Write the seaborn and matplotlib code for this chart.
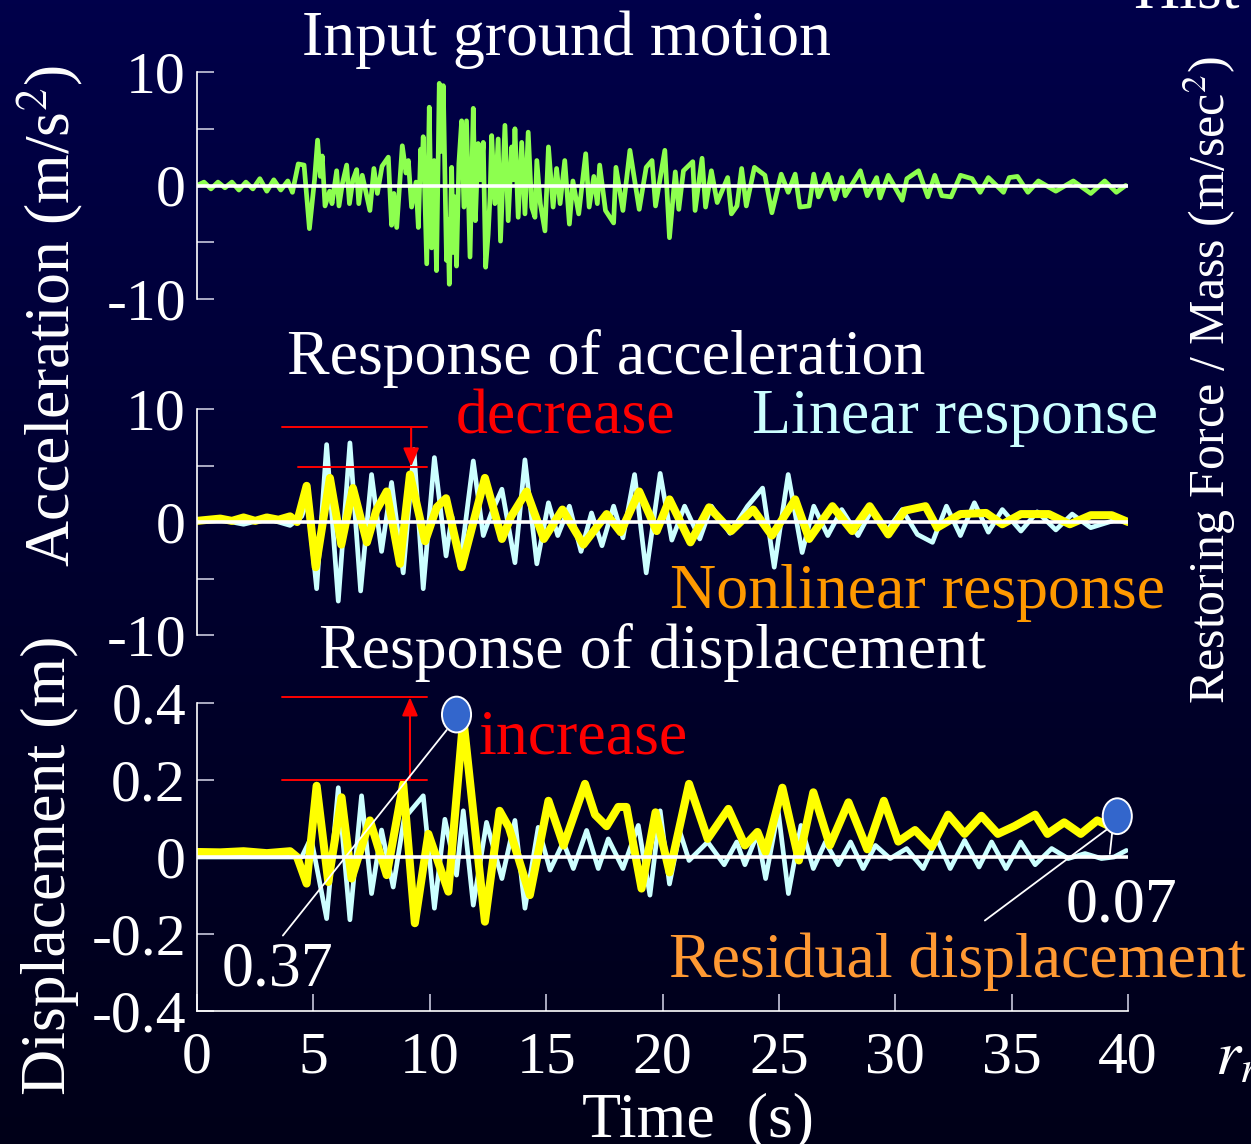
import matplotlib
matplotlib.use("Agg")
import numpy as np
import matplotlib.pyplot as plt
from matplotlib.patches import Ellipse
from matplotlib.colors import LinearSegmentedColormap
import seaborn as sns

sns.set_theme(style="ticks")
plt.rcParams['font.family'] = ['Liberation Serif', 'DejaVu Serif']
plt.rcParams['mathtext.fontset'] = 'stix'

# ---- data ----
# input ground motion (m/s2): peaks / valleys
gm_t = [0.0, 0.3, 0.6, 0.9, 1.2, 1.5, 1.8, 2.1, 2.4, 2.7, 3.0, 3.3, 3.6, 3.9, 4.1,
        4.35, 4.6, 4.83, 5.05, 5.18, 5.3, 5.38, 5.5, 5.7, 5.8, 6.0, 6.1, 6.25, 6.43,
        6.55, 6.7, 6.86, 6.95, 7.1, 7.25, 7.43, 7.6, 7.75, 7.95, 8.22, 8.36, 8.46,
        8.58, 8.82, 8.98, 9.08, 9.22, 9.41, 9.51, 9.61, 9.66, 9.72, 9.87, 9.98,
        10.08, 10.19, 10.29, 10.41, 10.5, 10.58, 10.72, 10.78, 10.84, 10.94, 11.01,
        11.08, 11.15, 11.25, 11.37, 11.47, 11.58, 11.73, 11.87, 11.96, 12.08, 12.18,
        12.3, 12.4, 12.51, 12.59, 12.66, 12.8, 12.94, 13.04, 13.23, 13.37, 13.52,
        13.59, 13.66, 13.8, 13.95, 14.09, 14.23, 14.38, 14.52, 14.6, 14.75, 14.95,
        15.1, 15.3, 15.45, 15.6, 15.8, 16.0, 16.15, 16.4, 16.7, 16.85, 17.05, 17.2,
        17.3, 17.55, 17.9, 18.0, 18.3, 18.6, 19.0, 19.3, 19.55, 19.7, 20.1, 20.3,
        20.55, 20.7, 20.9, 21.3, 21.4, 21.7, 21.85, 22.1, 22.35, 22.8, 22.96,
        23.2, 23.4, 23.6, 23.95, 24.4, 24.7, 25.1, 25.4, 25.7, 25.9, 26.3, 26.5,
        26.7, 27.1, 27.4, 27.7, 27.85, 28.5, 28.8, 29.2, 29.35, 29.7, 30.3, 30.5,
        31.0, 31.4, 31.7, 32.0, 32.4, 32.8, 33.3, 33.65, 34.0, 34.65, 34.9, 35.25,
        35.7, 36.15, 36.9, 37.65, 38.4, 39.0, 39.5, 39.9]
gm_a = [0.0, 0.3, -0.3, 0.3, -0.2, 0.3, -0.4, 0.3, -0.3, 0.6, -0.5, 0.5, -0.4, 0.4, -0.6,
        1.9, 1.8, -3.8, 0.5, 4.0, 0.8, 2.6, -1.8, -0.5, -1.6, 1.3, -1.8, 0.2, 1.8,
        -1.6, 0.5, 1.4, -1.6, 0.9, -0.5, -2.2, 1.5, -0.7, 1.7, 2.5, -3.5, -0.7,
        -3.7, 3.5, 1.1, 2.2, -1.9, 0.3, -3.7, 3.2, 1.0, 4.3, -6.9, 6.9,
        -5.5, 2.2, -7.5, 9.0, 3.0, 8.8, -6.6, -3.0, -8.7, 1.6, -5.9,
        -1.0, -7.1, 1.9, 5.7, -1.9, 5.7, -6.3, 6.8, -3.1, 3.7, 0.5,
        3.8, -7.2, -4.3, -1.0, 4.4, -1.6, 4.1, -4.9, 5.3, -3.1, 3.4,
        0.5, 5.0, -2.8, 3.8, -2.5, 4.7, -1.9, -2.8, 2.2, -1.6, -4.0,
        3.4, -1.9, 1.5, -1.6, 2.2, -3.4, 0.4, -2.5, 2.8, -1.9, 0.8, -1.6,
        1.8, -2.2, -3.3, 1.6, -2.2, 3.1, -2.1, 1.6, 2.2, -1.8, 3.1, -4.6,
        1.2, -2.1, 1.3, 2.1, -2.2, 2.4, -1.9, 1.3, -1.5, 0.7, -2.5,
        -1.8, 1.5, -1.8, 1.6, 0.9, -2.4, 1.0, -0.6, 1.0, -1.9, -1.8, 1.0,
        -1.0, 1.0, -1.2, 0.7, -0.9, 1.3, -0.9, 0.7, -1.1, 0.9, -1.3, 0.6,
        1.3, -1.0, 0.9, -0.9, -1.0, 0.9, 0.6, -0.6, 0.7, -0.6, 0.7, 0.8,
        -0.6, 0.4, -0.5, 0.4, -0.7, 0.4, -0.6, 0.0]

# response acceleration, linear (m/s2)
acc_lin_t = [0.0, 1.0, 2.0, 3.0, 4.0, 4.5, 4.75, 5.14, 5.57, 6.07, 6.57, 7.03, 7.5, 7.93,
             8.36, 8.86, 9.32, 9.72, 10.2, 10.7, 10.95, 11.3, 11.87, 12.3, 12.65, 13.1,
             13.66, 14.09, 14.6, 15.1, 15.5, 16.0, 16.5, 16.95, 17.4, 17.9, 18.3, 18.8,
             19.3, 19.9, 20.4, 20.95, 21.6, 22.1, 22.9, 23.65, 24.3, 24.8, 25.4, 26.0,
             26.5, 27.1, 27.7, 28.4, 29.0, 29.6, 30.3, 30.95, 31.6, 32.2, 32.8, 33.4,
             34.0, 34.6, 35.4, 36.1, 36.9, 37.6, 38.4, 39.5, 40.0]
acc_lin = [0.0, 0.2, -0.2, 0.3, -0.3, 0.5, 2.0, -5.9, 6.85, -7.0, 7.0, -6.1, 4.2, -2.6,
           3.5, -4.5, 6.4, -5.9, 5.7, -3.0, 0.5, -3.9, 5.4, -1.2, 0.8, 2.9,
           -3.6, 5.5, -3.7, 1.7, -1.2, 1.4, -2.6, 0.8, -2.1, 1.4, -1.4, 4.2,
           -4.5, 4.3, -1.6, 1.4, -1.5, 1.4, -1.0, 1.4, 3.0, -4.0, 4.2, -2.7,
           1.4, -1.2, 1.1, -1.2, 1.1, -0.9, 1.1, -1.1, -1.8, 1.4, -1.2, 1.7,
           -0.9, 1.1, -0.8, 0.9, -0.7, 0.7, -0.5, 0.2, 0.0]

# response acceleration, nonlinear (m/s2)
acc_nl_t = [0.0, 1.0, 1.5, 2.0, 2.5, 3.0, 3.5, 4.0, 4.3, 4.71, 5.1, 5.71, 6.2, 6.7, 7.3,
            7.7, 8.15, 8.72, 9.15, 9.8, 10.3, 10.7, 11.37, 12.37, 13.1, 13.5, 14.16,
            14.9, 15.7, 16.6, 17.6, 18.2, 19.0, 19.75, 20.3, 21.2, 22.0, 22.95, 23.9,
            24.7, 25.7, 26.3, 27.3, 28.15, 28.9, 29.7, 30.4, 31.3, 31.8, 32.8, 33.9,
            34.6, 35.4, 36.6, 37.5, 38.4, 39.3, 40.0]
acc_nl = [0.1, 0.3, 0.1, 0.4, 0.1, 0.4, 0.2, 0.5, 0.0, 3.2, -4.0, 3.9, -2.0, 3.0, -1.8,
          1.0, 2.7, -3.7, 4.2, -1.7, 1.3, 2.1, -4.0, 3.9, -1.5, 0.5, 2.7,
          -1.5, 1.1, -2.0, 0.7, -0.9, 2.7, -0.8, 2.0, -1.8, 1.3, -0.8, 1.1,
          -1.2, 2.0, -1.5, 1.4, -0.8, 1.4, -1.1, 1.0, 1.4, -0.5, 0.7, 0.8,
          -0.2, 0.7, 0.7, -0.2, 0.6, 0.6, 0.0]

# response displacement, linear (m)
dis_lin_t = [0.0, 4.5, 4.9, 5.57, 6.07, 6.57, 7.07, 7.5, 7.93, 8.43, 8.9, 9.72, 10.2,
             10.65, 11.15, 11.44, 11.87, 12.44, 13.1, 13.66, 14.09, 14.66, 15.17,
             15.74, 16.17, 16.74, 17.24, 17.67, 18.3, 18.96, 19.46, 19.9, 20.3, 20.75,
             21.14, 21.94, 22.65, 23.19, 23.54, 24.08, 24.43, 24.97, 25.41, 25.95,
             26.48, 27.0, 27.55, 28.08, 28.62, 29.15, 29.78, 30.49, 31.2, 31.8, 32.36,
             32.98, 33.6, 34.14, 34.76, 35.39, 36.01, 36.72, 37.43, 38.15, 38.86,
             39.4, 39.93]
dis_lin = [0.0, 0.0, 0.05, -0.16, 0.18, -0.163, 0.159, -0.095, 0.07, -0.078, 0.1, 0.159,
           -0.133, 0.098, -0.047, 0.12, -0.125, 0.09, -0.056, 0.095, -0.133, 0.077,
           -0.034, 0.039, -0.03, 0.069, -0.03, 0.047, -0.03, 0.082, -0.099, 0.12,
           -0.07, 0.065, -0.009, 0.039, -0.02, 0.039, -0.02, 0.06, -0.056, 0.12,
           -0.095, 0.082, -0.03, 0.039, -0.02, 0.039, -0.03, 0.03, -0.004, 0.022,
           -0.03, 0.047, -0.03, 0.043, -0.026, 0.039, -0.03, 0.039, -0.02, 0.022,
           -0.004, 0.009, -0.004, 0.0, 0.017]

# response displacement, nonlinear (m)
dis_nl_t = [0.0, 1.0, 2.0, 3.0, 4.0, 4.3, 4.71, 5.14, 5.64, 6.21, 6.64, 7.43, 8.15, 8.86,
            9.36, 9.94, 10.8, 11.44, 12.37, 13.0, 13.4, 14.3, 15.1, 15.75, 16.67, 17.1,
            17.6, 18.1, 18.45, 19.1, 19.7, 20.3, 21.14, 21.94, 22.83, 23.54, 24.08,
            24.43, 25.15, 25.86, 26.48, 27.19, 27.99, 28.8, 29.51, 30.13, 30.85, 31.56,
            32.27, 32.98, 33.7, 34.41, 35.12, 36.01, 36.54, 37.26, 37.97, 38.68, 39.2,
            39.75]
dis_nl = [0.013, 0.012, 0.015, 0.01, 0.015, 0.0, -0.069, 0.185, -0.065, 0.155, -0.056, 0.095,
          -0.047, 0.19, -0.172, 0.06, -0.09, 0.36, -0.168, 0.12, 0.077, -0.099, 0.146,
          0.03, 0.19, 0.11, 0.08, 0.13, 0.13, -0.082, 0.116, -0.04, 0.19, 0.047, 0.125,
          0.03, 0.065, 0.013, 0.18, -0.009, 0.168, 0.03, 0.142, 0.02, 0.146, 0.04, 0.07,
          0.026, 0.11, 0.06, 0.107, 0.06, 0.08, 0.11, 0.06, 0.09, 0.06, 0.095, 0.08,
          0.077]

max_disp = 0.37
residual_disp = 0.07
x_ticks = [0, 5, 10, 15, 20, 25, 30, 35, 40]
acc_ticks = [-10, -5, 0, 5, 10]
acc_ticklabels = ['-10', '', '0', '', '10']
dis_ticks = [-0.4, -0.2, 0, 0.2, 0.4]
dis_ticklabels = ['-0.4', '-0.2', '0', '0.2', '0.4']

# ---- style ----
W, H = 1251, 1144
GREEN = '#8dff4f'
CYAN = '#ccffff'
YELLOW = '#ffff00'
RED = '#ff0000'
ORANGE = '#ff9900'
TICK_C = '#c8c8dc'
BIG = 46
TICK_FS = 43


def fx(x):
    return x / W


def fy(y):
    return 1 - y / H


fig = plt.figure(figsize=(W / 100, H / 100), dpi=100)
bg = fig.add_axes([0, 0, 1, 1], zorder=-10)
cmap = LinearSegmentedColormap.from_list('bg', ['#00004a', '#00002e', '#000018'])
bg.imshow(np.linspace(0, 1, 256)[:, None], aspect='auto', cmap=cmap, extent=[0, 1, 0, 1])
bg.axis('off')

L, R = 197, 1128
ax1 = fig.add_axes([fx(L), fy(299), (R - L) / W, 227 / H])
ax2 = fig.add_axes([fx(L), fy(635), (R - L) / W, 226 / H])
ax3 = fig.add_axes([fx(L), fy(1011), (R - L) / W, 308 / H])

for ax in (ax1, ax2, ax3):
    ax.set_facecolor('none')
    for s in ('top', 'right'):
        ax.spines[s].set_visible(False)
    ax.spines['left'].set_color('white')
    ax.spines['left'].set_linewidth(1.2)
    ax.spines['bottom'].set_color('white')
    ax.spines['bottom'].set_linewidth(1.2)
    ax.tick_params(axis='both', direction='in', length=12, width=1.2, color=TICK_C,
                   labelcolor='white', labelsize=TICK_FS, pad=8)
    ax.axhline(0, color='white', lw=2.6, zorder=6)

# ---- lines ----
line_kw = dict(estimator=None, sort=False, solid_joinstyle='round', solid_capstyle='round')
sns.lineplot(x=gm_t, y=gm_a, ax=ax1, color=GREEN, linewidth=3.4, **line_kw)
sns.lineplot(x=acc_lin_t, y=acc_lin, ax=ax2, color=CYAN, linewidth=3.4, **line_kw)
sns.lineplot(x=acc_nl_t, y=acc_nl, ax=ax2, color=YELLOW, linewidth=5.8, **line_kw)
sns.lineplot(x=dis_lin_t, y=dis_lin, ax=ax3, color=CYAN, linewidth=3.4, **line_kw)
sns.lineplot(x=dis_nl_t, y=dis_nl, ax=ax3, color=YELLOW, linewidth=5.8, **line_kw)

for ax in (ax1, ax2, ax3):
    ax.set_xlabel('')
    ax.set_ylabel('')
    ax.set_xlim(0, 40)

for ax in (ax1, ax2):
    ax.spines['bottom'].set_visible(False)
    ax.set_xticks([])
    ax.set_ylim(-10, 10)
    ax.set_yticks(acc_ticks)
    ax.set_yticklabels(acc_ticklabels)

ax3.set_ylim(-0.4, 0.4)
ax3.set_yticks(dis_ticks)
ax3.set_yticklabels(dis_ticklabels)
ax3.set_xticks(x_ticks)
ax3.set_xticklabels([str(v) for v in x_ticks])
ax3.tick_params(axis='x', pad=15)

# ---- red guide marks ----
arrow = dict(arrowstyle='-|>,head_width=0.3,head_length=0.7', color=RED, lw=1.5,
             shrinkA=0, shrinkB=0, mutation_scale=16)
ax2.plot([3.65, 9.9], [8.4, 8.4], color=RED, lw=1.4, clip_on=False)
ax2.plot([4.35, 9.9], [4.9, 4.9], color=RED, lw=1.4, clip_on=False)
ax2.annotate('', xy=(9.2, 4.9), xytext=(9.2, 8.4), arrowprops=arrow, annotation_clip=False)
ax3.plot([3.65, 9.9], [0.415, 0.415], color=RED, lw=1.4, clip_on=False)
ax3.plot([3.65, 9.9], [0.2, 0.2], color=RED, lw=1.4, clip_on=False)
ax3.annotate('', xy=(9.15, 0.415), xytext=(9.15, 0.2), arrowprops=arrow, annotation_clip=False)

# ---- markers for max and residual displacement ----
ax3.plot([10.73, 3.69], [0.33, -0.204], color='white', lw=1.3, clip_on=False, zorder=7)
ax3.plot([39.39, 33.85], [0.085, -0.165], color='white', lw=1.3, clip_on=False, zorder=7)
ax3.plot([39.35, 39.22], [0.08, 0.008], color='white', lw=1.3, clip_on=False, zorder=7)
for cx, cy in ((11.15, max_disp), (39.54, 0.106)):
    ax3.add_patch(Ellipse((cx, cy), 1.25, 0.093, facecolor='#3366cc', edgecolor='white',
                          lw=1.4, zorder=8, clip_on=False))


# ---- texts ----
def ftext(x, y, s, color='white', size=BIG, ha='center', va='baseline', **kw):
    fig.text(fx(x), fy(y), s, color=color, fontsize=size, ha=ha, va=va, **kw)


ftext(566, 55, 'Input ground motion')
ftext(606, 374, 'Response of acceleration')
ftext(652, 668, 'Response of displacement')
ftext(566, 433, 'decrease', color=RED)
ftext(955, 433, 'Linear response', color=CYAN)
ftext(918, 608, 'Nonlinear response', color=ORANGE)
ftext(583, 753, 'increase', color=RED)
ftext(277, 985, f'{max_disp:.2f}')
ftext(1121, 922, f'{residual_disp:.2f}')
ftext(957, 977, 'Residual displacement', color='#ff9933')
ftext(698, 1136, 'Time  (s)')
ftext(1215, 1075, '$r_r$', ha='left')
ftext(1133, 8, 'Hist', ha='left')

fig.text(fx(50), fy(316), 'Acceleration (m/s$^2$)', color='white', fontsize=BIG,
         rotation=90, ha='center', va='center')
fig.text(fx(50), fy(865), 'Displacement (m)', color='white', fontsize=BIG,
         rotation=90, ha='center', va='center')
fig.text(fx(1210), fy(380), 'Restoring Force / Mass (m/sec$^2$)', color='white',
         fontsize=36, rotation=90, ha='center', va='center')

fig.savefig('out.png', dpi=100)
